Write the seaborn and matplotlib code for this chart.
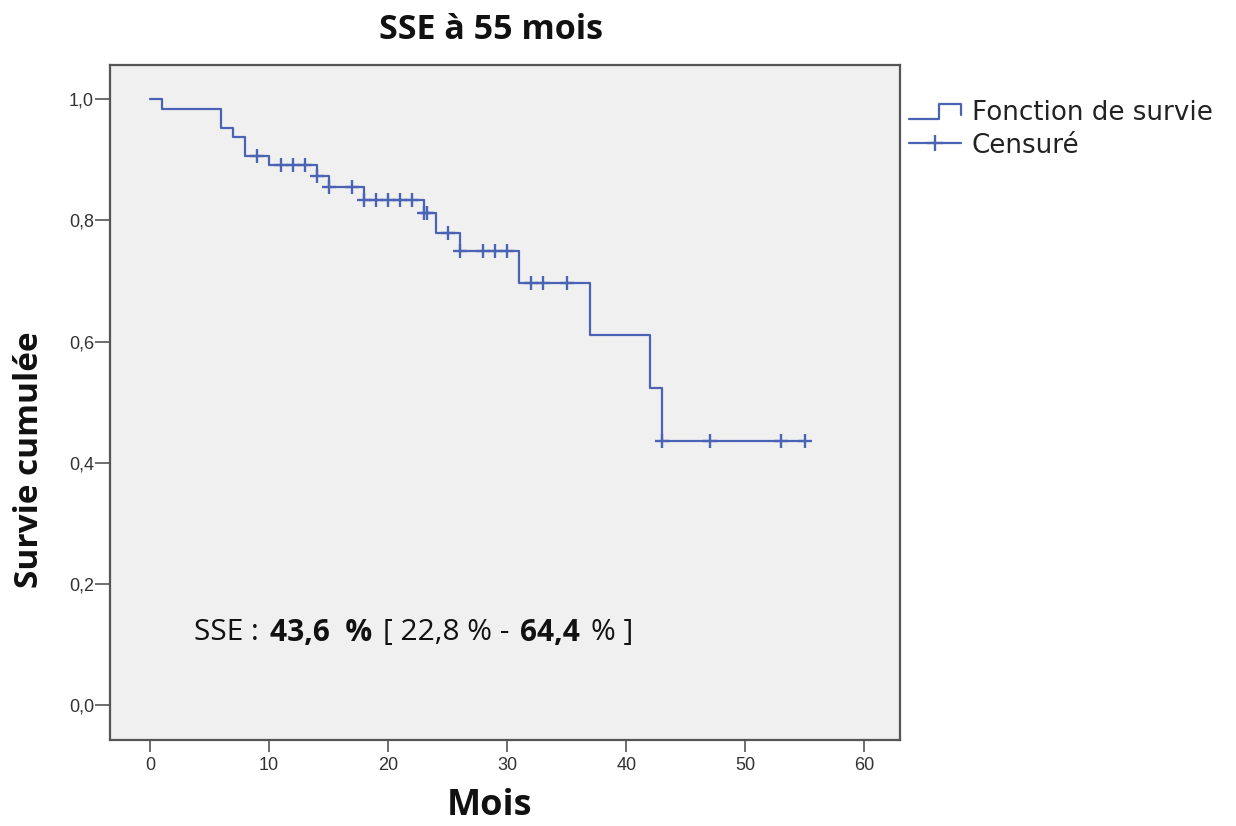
import numpy as np
import pandas as pd
import matplotlib
matplotlib.use("Agg")
import matplotlib.pyplot as plt
import matplotlib.transforms as mtransforms
from matplotlib.lines import Line2D
import seaborn as sns

# Kaplan-Meier step function: event times (months) and survival after each step
event_months = [0, 1, 6, 7, 8, 10, 14, 15, 18, 23, 24, 26, 31, 37, 42, 43]
survival = [1.0, 0.984, 0.953, 0.938, 0.907, 0.892, 0.873, 0.855, 0.834,
            0.812, 0.780, 0.750, 0.697, 0.610, 0.523, 0.436]
last_follow_up = 55

# Censored observations (months)
censored_months = [9, 11, 12, 13, 14, 15, 17, 18, 19, 20, 21, 22, 23, 23.3,
                   25, 26, 28, 29, 30, 32, 33, 35, 43, 47, 53, 55]

x_ticks = [0, 10, 20, 30, 40, 50, 60]
y_ticks = [0.0, 0.2, 0.4, 0.6, 0.8, 1.0]

title = "SSE à 55 mois"
x_label = "Mois"
y_label = "Survie cumulée"
legend_labels = ["Fonction de survie", "Censuré"]

BLUE = "#4B63B5"
FRAME = "#555555"
HEAD_FONT = ["Open Sans", "DejaVu Sans"]

sns.set_theme(style="white")
plt.rcParams["font.family"] = ["Liberation Sans", "DejaVu Sans"]

curve = pd.DataFrame({
    "mois": event_months + [last_follow_up],
    "survie": survival + [survival[-1]],
})


def surv_at(t):
    idx = np.searchsorted(event_months, t, side="right") - 1
    return survival[idx]


cens = pd.DataFrame({
    "mois": censored_months,
    "survie": [surv_at(t) for t in censored_months],
})

fig = plt.figure(figsize=(12.36, 8.26), dpi=100)
fig.patch.set_facecolor("white")
ax = fig.add_axes([110 / 1236, 86 / 826, 790 / 1236, 675 / 826])
ax.set_facecolor("#F0F0F0")

sns.lineplot(data=curve, x="mois", y="survie", ax=ax, drawstyle="steps-post",
             estimator=None, sort=False, color=BLUE, linewidth=1.6)
sns.scatterplot(data=cens, x="mois", y="survie", ax=ax, marker="+",
                s=100, color=BLUE, linewidth=1.7, zorder=3)

# Axes ranges and ticks
ax.set_xlim(-3.36, 63.0)
ax.set_ylim(-0.058, 1.0566)
ax.set_xticks(x_ticks)
ax.set_xticklabels([str(v) for v in x_ticks])
ax.set_yticks(y_ticks)
ax.set_yticklabels([f"{v:.1f}".replace(".", ",") for v in y_ticks])
ax.tick_params(axis="both", which="major", direction="out", color=FRAME,
               width=1.2, labelsize=13, labelcolor="#333333")
ax.tick_params(axis="y", length=10.5, pad=1)
ax.tick_params(axis="x", length=8.5, pad=4)
ax.xaxis.set_ticks_position("bottom")
ax.yaxis.set_ticks_position("left")
for sp in ax.spines.values():
    sp.set_visible(True)
    sp.set_color(FRAME)
    sp.set_linewidth(1.6)
ax.set_xlabel("")
ax.set_ylabel("")

# Titles and axis labels
fig.text(491 / 1236, 1 - 30 / 826, title, ha="center", va="center",
         fontsize=24.5, fontweight="bold", family=HEAD_FONT, color="#111111")
fig.text(490 / 1236, 1 - 806 / 826, x_label, ha="center", va="center",
         fontsize=26, fontweight="bold", family=HEAD_FONT, color="#111111")
fig.text(30 / 1236, 1 - 460 / 826, y_label, ha="center", va="center",
         rotation=90, fontsize=24, fontweight="bold", family=HEAD_FONT,
         color="#111111")


# Legend with a step-shaped icon for the survival function
class StepHandler:
    def legend_artist(self, legend, orig_handle, fontsize, handlebox):
        x0, y0 = handlebox.xdescent, handlebox.ydescent
        w, h = handlebox.width, handlebox.height
        xs = [x0, x0 + 0.58 * w, x0 + 0.58 * w, x0 + w, x0 + w]
        ys = [y0 + 0.05 * h, y0 + 0.05 * h, y0 + 0.85 * h, y0 + 0.85 * h,
              y0 + 0.25 * h]
        line = Line2D(xs, ys, color=orig_handle.get_color(), linewidth=1.6)
        line.set_transform(handlebox.get_transform())
        handlebox.add_artist(line)
        return line


h_curve = Line2D([], [], color=BLUE, linewidth=1.6)
h_cens = Line2D([], [], color=BLUE, linewidth=1.6, marker="+",
                markersize=12, markeredgewidth=1.7)
fig.legend([h_curve, h_cens], legend_labels,
           handler_map={h_curve: StepHandler()},
           loc="upper left", bbox_to_anchor=(909 / 1236, 1 - 100 / 826),
           frameon=False, prop={"family": "DejaVu Sans", "size": 18.8},
           handlelength=2.0, handletextpad=0.4,
           labelspacing=0.25, borderpad=0, borderaxespad=0,
           labelcolor="#222222")

# Annotation with mixed weights
parts = [("SSE :", "normal"), ("43,6  %", "bold"), ("[ 22,8 % -", "normal"),
         ("64,4", "bold"), ("% ]", "normal")]
fig.canvas.draw()
renderer = fig.canvas.get_renderer()
trans = ax.transData
gap = 11
for s, w in parts:
    txt = ax.text(3.7, 0.119, s, transform=trans, fontsize=21.5,
                  fontweight=w, family=HEAD_FONT, color="#111111",
                  va="center")
    ext = txt.get_window_extent(renderer)
    trans = mtransforms.offset_copy(txt.get_transform(),
                                    x=ext.width + gap, units="dots")

fig.savefig("out.png", dpi=100, facecolor="white")
